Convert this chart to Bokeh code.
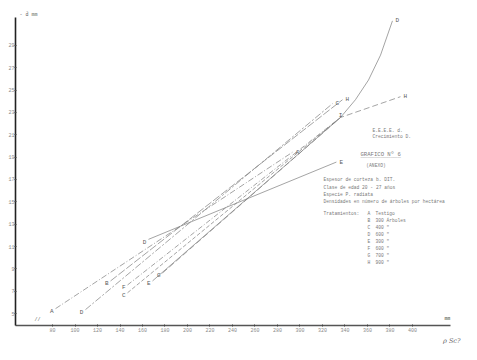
from bokeh.plotting import figure
from bokeh.models import Range1d, FixedTicker, ColumnDataSource, Label, Title
from bokeh.embed import file_html
from bokeh.resources import INLINE
from bokeh.core.properties import value

# ---- data ----
x_ticks = list(range(80, 401, 20))
y_ticks = list(range(5, 30, 2))

line_A_x = [82.7, 293.3]
line_A_y = [5.44, 19.44]
line_B_x = [131.6, 337.8]
line_B_y = [7.92, 24.14]
line_C_x = [146.7, 336.0]
line_C_y = [6.86, 22.55]
line_D_x = [168.9, 336.0, 349.3, 360.9, 371.6, 382.2]
line_D_y = [7.92, 22.55, 24.14, 25.9, 28.13, 31.2]
line_E_x = [165.3, 332.4]
line_E_y = [11.64, 18.56]
line_F_x = [146.7, 336.0]
line_F_y = [7.56, 22.55]
line_G_x = [109.3, 328.9]
line_G_y = [5.35, 23.79]
line_H_x = [177.8, 336.0, 389.3]
line_H_y = [8.63, 22.55, 24.41]

left_labels = ["A", "B", "C", "E", "F", "D", "G", "D"]
left_x = [82.7, 131.6, 146.7, 168.9, 146.7, 165.3, 177.8, 109.3]
left_y = [5.44, 7.92, 6.86, 7.92, 7.56, 11.64, 8.63, 5.35]
right_labels = ["A", "D", "E", "G", "H", "H"]
right_x = [293.3, 382.2, 332.4, 328.9, 337.8, 389.3]
right_y = [19.44, 31.2, 18.56, 23.79, 24.14, 24.41]
mid_label = ["I"]
mid_x = [336.0]
mid_y = [22.55]

info_lines = [
    "E.E.E.E.  d.",
    "Crecimiento D.",
    "(ANEXO)",
    "Espesor de corteza b. DIT.",
    "Clase de edad 20 - 27 años",
    "Especie P. radiata",
    "Densidades en número de árboles por hectárea",
]
title_text = "GRAFICO Nº 6"
treat_codes = ["A", "B", "C", "D", "E", "F", "G", "H"]
treat_text = ["Testigo", "300 Árboles", "400   \"", "600   \"", "300   \"", "600   \"", "700   \"", "900   \""]

FONT = "Liberation Mono"
LINE_COLOR = "#7c7c7c"
TEXT_COLOR = "#7a7a7a"
LETTER_COLOR = "#5a5a5a"

p = figure(width=461, height=344, output_backend="svg", toolbar_location=None,
           x_range=Range1d(47.1, 433.8), y_range=Range1d(3.93, 31.5),
           min_border_left=15, min_border_right=11, min_border_top=17, min_border_bottom=16)
p.outline_line_color = None
p.grid.visible = False
p.background_fill_color = "white"

for ax, ticks in ((p.xaxis, x_ticks), (p.yaxis, y_ticks)):
    ax.ticker = FixedTicker(ticks=ticks)
    ax.major_label_text_font = FONT
    ax.major_label_text_font_size = "5px"
    ax.major_label_text_color = "#8a8a8a"
    ax.minor_tick_line_color = None
    ax.major_tick_in = 1
    ax.major_tick_out = 1
    ax.major_tick_line_color = "#444444"
p.xaxis.major_label_standoff = 1
p.yaxis.major_label_standoff = 0
p.xaxis.axis_line_color = "#555555"
p.xaxis.axis_line_width = 1.4
p.yaxis.axis_line_color = "#222222"
p.yaxis.axis_line_width = 1.6

# texts outside the plotting frame go in title panels
p.add_layout(Title(text="- d̄  mm", align="left", offset=4, standoff=0,
                   text_font=FONT, text_font_size="5px", text_font_style="normal",
                   text_color="#666666"), "above")
p.add_layout(Title(text="ρ Sc?", align="right", offset=-10, standoff=0,
                   text_font="DejaVu Serif", text_font_size="6.5px", text_font_style="italic",
                   text_color="#666666"), "below")

styles = {
    "A": "6 2 1 2", "B": "8 2", "C": "4 2", "D": "solid",
    "E": "solid", "F": "5 2 1 2", "G": "7 2 2 2", "H": "6 3",
}
data = {
    "A": (line_A_x, line_A_y), "B": (line_B_x, line_B_y), "C": (line_C_x, line_C_y),
    "D": (line_D_x, line_D_y), "E": (line_E_x, line_E_y), "F": (line_F_x, line_F_y),
    "G": (line_G_x, line_G_y), "H": (line_H_x, line_H_y),
}
for k, (xs, ys) in data.items():
    p.line(xs, ys, line_color=LINE_COLOR, line_width=0.7, line_dash=styles[k])

lsrc = ColumnDataSource(dict(x=left_x, y=left_y, t=left_labels))
p.text("x", "y", text="t", source=lsrc, text_font=value(FONT), text_font_size="6px",
       text_color=LETTER_COLOR, text_align="right", text_baseline="middle", x_offset=-2, y_offset=3)
rsrc = ColumnDataSource(dict(x=right_x, y=right_y, t=right_labels))
p.text("x", "y", text="t", source=rsrc, text_font=value(FONT), text_font_size="6px",
       text_color=LETTER_COLOR, text_align="left", text_baseline="middle", x_offset=3, y_offset=0)
msrc = ColumnDataSource(dict(x=mid_x, y=mid_y, t=mid_label))
p.text("x", "y", text="t", source=msrc, text_font=value(FONT), text_font_size="6px",
       text_color=LETTER_COLOR, text_align="center", text_baseline="middle", y_offset=-2)

# info block
FS = "4.6px"
info_x = [364.4, 364.4, 359.0, 320.9, 320.9, 320.9, 320.9]
info_y = [21.39, 20.86, 18.29, 16.96, 16.25, 15.63, 15.01]
for t, xx, yy in zip(info_lines, info_x, info_y):
    p.add_layout(Label(x=xx, y=yy, text=t, text_font=FONT, text_font_size=FS,
                       text_color=TEXT_COLOR, text_baseline="middle"))
p.add_layout(Label(x=353.8, y=19.27, text=title_text, text_font=FONT, text_font_size="5.6px",
                   text_color=TEXT_COLOR, text_baseline="middle"))
p.add_layout(Label(x=353.8, y=19.27, text="_" * len(title_text), text_font=FONT, text_font_size="5.6px",
                   text_color=TEXT_COLOR, text_baseline="middle", y_offset=-1))
p.add_layout(Label(x=320.9, y=13.95, text="Tratamientos:", text_font=FONT, text_font_size=FS,
                   text_color=TEXT_COLOR, text_baseline="middle"))
for i, (c, t) in enumerate(zip(treat_codes, treat_text)):
    yy = 13.95 - i * 0.63
    p.add_layout(Label(x=360.0, y=yy, text=c, text_font=FONT, text_font_size=FS,
                       text_color=TEXT_COLOR, text_baseline="middle"))
    p.add_layout(Label(x=367.1, y=yy, text=t, text_font=FONT, text_font_size=FS,
                       text_color=TEXT_COLOR, text_baseline="middle"))

p.add_layout(Label(x=66.7, y=3.93, text="//", text_font=FONT, text_font_size="5px",
                   text_color="#666666", text_align="center", y_offset=3))
p.add_layout(Label(x=433.8, y=3.93, text="mm", text_font=FONT, text_font_size="5px",
                   text_color="#444444", text_align="left", x_offset=-6, y_offset=4))

open("out.html", "w").write(file_html(p, INLINE))
